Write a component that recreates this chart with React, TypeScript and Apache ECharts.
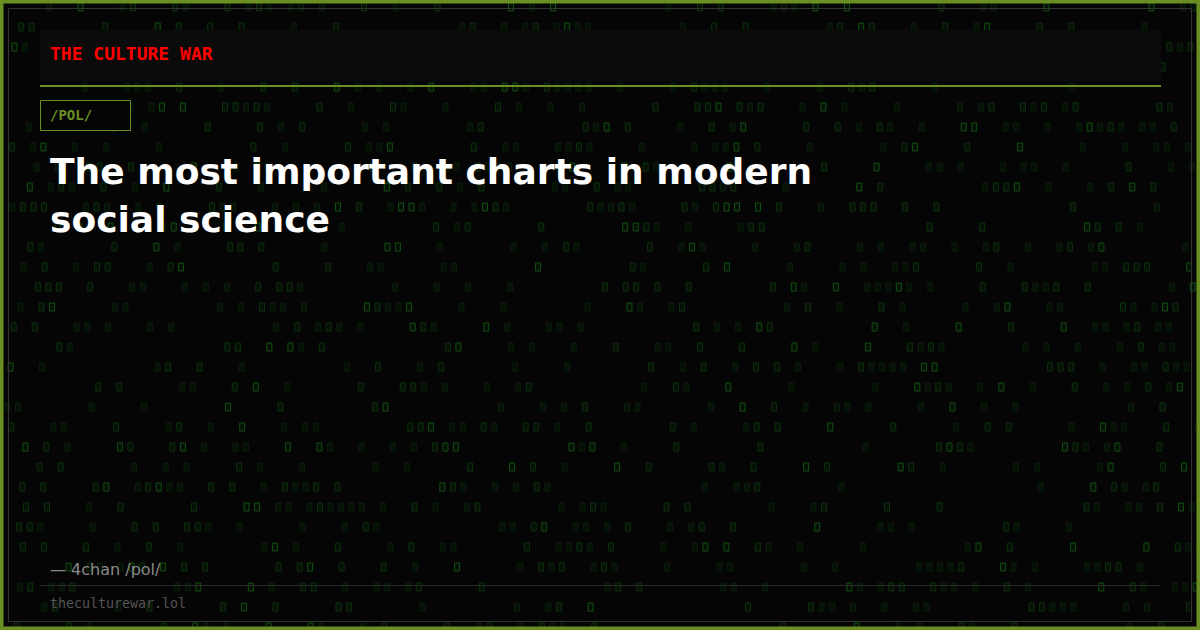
import React, { useEffect, useRef } from "react";
import * as echarts from "echarts";

const BRAND = "THE CULTURE WAR";
const TAG = "/POL/";
const TITLE_LINES = ["The most important charts in modern", "social science"];
const SOURCE = "— 4chan /pol/";
const SITE = "theculturewar.lol";

const W = 1200;
const H = 630;
const OLIVE = "#6b8e23";

// decorative glyph texture (deterministic hash, not data)
function hash(a: number, b: number): number {
  let h = (a * 374761393 + b * 668265263) ^ 0x5bd1e995;
  h = (h ^ (h >>> 13)) * 1274126177;
  h = h ^ (h >>> 16);
  return (h >>> 0) / 4294967295;
}

function buildTexture(): any[] {
  const out: any[] = [];
  const rowStep = 20;
  const colStep = 10.5;
  for (let r = 0; r < 32; r++) {
    const cy = 6.5 + r * rowStep;
    const offset = (r * 3.7) % colStep;
    for (let c = 0; c < 116; c++) {
      const v = hash(r + 11, c + 7);
      const cluster = hash(r + 3, Math.floor(c / 6) + 101);
      const threshold = 0.15 + cluster * 0.35;
      if (v > threshold) continue;
      const cx = 4 + offset + c * colStep;
      const bright = hash(c + 31, r + 57);
      const stroke = bright > 0.85 ? "#124e12" : bright > 0.5 ? "#0c300c" : "#091e09";
      out.push({
        type: "rect",
        silent: true,
        shape: { x: cx + 0.5, y: cy - 3.5, width: 5, height: 8 },
        style: {
          fill: "#061006",
          stroke,
          lineWidth: 1,
        },
      });
    }
  }
  return out;
}

export default function App() {
  const ref = useRef<HTMLDivElement>(null);
  useEffect(() => {
    if (!ref.current) return;
    const chart = echarts.init(ref.current, undefined, { renderer: "svg", width: W, height: H });
    const texture = buildTexture();
    const elements: any[] = [
      { type: "rect", silent: true, shape: { x: 0, y: 0, width: W, height: H }, style: { fill: "#050505" } },
      { type: "group", silent: true, children: texture },
      // outer frame
      { type: "rect", silent: true, shape: { x: 1.75, y: 1.75, width: W - 3.5, height: H - 3.5 }, style: { fill: "none", stroke: OLIVE, lineWidth: 3.5 } },
      { type: "rect", silent: true, shape: { x: 8.5, y: 8.5, width: W - 17, height: H - 17 }, style: { fill: "none", stroke: "#333333", lineWidth: 1 } },
      // header band
      { type: "rect", silent: true, shape: { x: 40, y: 30, width: 1121, height: 51 }, style: { fill: "#0b0b0b" } },
      { type: "text", silent: true, x: 50, y: 53, style: { text: BRAND, font: "bold 18px 'DejaVu Sans Mono', monospace", fill: "#ff0000", verticalAlign: "middle", textAlign: "left" } },
      { type: "rect", silent: true, shape: { x: 40, y: 85, width: 1121, height: 2 }, style: { fill: OLIVE } },
      // tag
      { type: "rect", silent: true, shape: { x: 40.5, y: 100.5, width: 90, height: 30 }, style: { fill: "#050505", stroke: OLIVE, lineWidth: 1 } },
      { type: "text", silent: true, x: 50, y: 114.5, style: { text: TAG, font: "bold 14px 'DejaVu Sans Mono', monospace", fill: OLIVE, verticalAlign: "middle", textAlign: "left" } },
      // title
      ...TITLE_LINES.map((line, i) => ({
        type: "text",
        silent: true,
        x: 50,
        y: 171 + i * 48,
        style: { text: line, font: "bold 36px 'DejaVu Sans', sans-serif", fill: "#ffffff", verticalAlign: "middle", textAlign: "left" },
      })),
      // footer
      { type: "text", silent: true, x: 50, y: 569.5, style: { text: SOURCE, font: "16px 'DejaVu Sans', sans-serif", fill: "#8a8a8a", verticalAlign: "middle", textAlign: "left" } },
      { type: "rect", silent: true, shape: { x: 40, y: 585, width: 1120, height: 1 }, style: { fill: "#2a2a2a" } },
      { type: "text", silent: true, x: 50, y: 603, style: { text: SITE, font: "13.3px 'DejaVu Sans Mono', monospace", fill: "#555555", verticalAlign: "middle", textAlign: "left" } },
    ];
    chart.setOption({
      animation: false,
      backgroundColor: "#050505",
      graphic: { elements },
    });
    return () => chart.dispose();
  }, []);
  return <div ref={ref} style={{ position: "absolute", left: 0, top: 0, width: W, height: H }} />;
}
